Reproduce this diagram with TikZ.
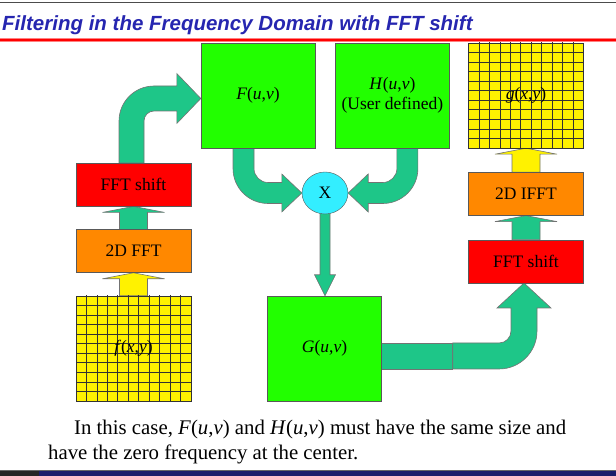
\documentclass[tikz,border=0pt]{standalone}
\usepackage{fontspec}
\setmainfont{Liberation Serif}
\newfontfamily\headfont{Liberation Sans}
\usetikzlibrary{calc, positioning, backgrounds, shapes.geometric}
\definecolor{Spec}{HTML}{22FF00}
\definecolor{Proc}{HTML}{FF8800}
\definecolor{Shift}{HTML}{FF0000}
\definecolor{Flow}{HTML}{1EC688}
\definecolor{Mult}{HTML}{33EEFF}
\definecolor{Head}{HTML}{2626B0}
\definecolor{Navy}{HTML}{1C1C6A}

% straight block arrow: colour, lower node, upper node
\newcommand\blockup[3]{%
  \path[blockarrow, fill=#1] ($(#2.north)+(-14,0)$) -- ($(#3.south)+(-14,-6)$) -- ($(#3.south)+(-31,-6)$) -- (#3.south)
    -- ($(#3.south)+(31,-6)$) -- ($(#3.south)+(14,-6)$) -- ($(#2.north)+(14,0)$) -- cycle;}

\begin{document}
\begin{tikzpicture}[
  x=1pt, y=1pt,
  boxtext/.style={font=\fontsize{17.5}{20}\selectfont},
  specbox/.style={boxtext, draw=black!65, fill=Spec, minimum width=114pt, minimum height=105pt, inner sep=0pt},
  procbox/.style={boxtext, draw=black!65, fill=Proc, minimum width=115pt, minimum height=43pt, inner sep=0pt},
  shiftbox/.style={procbox, fill=Shift},
  gridline/.style={draw=black!80, line width=0.7pt},
  gridbox/.style={boxtext, draw=black!80, fill=yellow, minimum width=115pt, minimum height=105pt, inner sep=0pt,
    path picture={
      \foreach \k in {1,...,10} {
        \draw[gridline] ($(path picture bounding box.south west)!\k/11!(path picture bounding box.south east)$) -- ++(0,110);
        \draw[gridline] ($(path picture bounding box.south west)!\k/11!(path picture bounding box.north west)$) -- ++(120,0);
      }}},
  blockarrow/.style={draw=black!55, line width=0.6pt, fill=Flow}
]
\useasboundingbox (0,0) rectangle (616,476);

% heading
\draw[black!70, line width=1pt] (0,473) -- (616,473);
\node[anchor=base west, inner sep=0pt, text=Head, font=\headfont\bfseries\itshape\fontsize{20.5}{24}\selectfont] (title) at (2,445)
  {Filtering in the Frequency Domain with FFT shift};
\draw[red!50, line width=4.5pt] (0,436) -- (616,436);
\draw[red, line width=2pt] (0,436) -- (616,436);

% left column
\node[gridbox] (fxy) at (133.5,127.5) {\textit{f}(\textit{x},\textit{y})};
\node[procbox, above=23pt of fxy] (fft) {2D FFT};
\node[shiftbox, above=23pt of fft] (shiftL) {FFT shift};

% spectra
\node[specbox] (Fuv) at (258,380.5) {\textit{F}(\textit{u},\textit{v})};
\node[specbox, right=20pt of Fuv, align=center] (Huv) {\textit{H}(\textit{u},\textit{v})\\(User defined)};
\node[boxtext, ellipse, draw=black!65, fill=Mult, minimum width=46pt, minimum height=42pt, inner sep=0pt] (mult) at (325,283) {X};
\node[specbox] (Guv) at (324.5,127.5) {\textit{G}(\textit{u},\textit{v})};

% right column
\node[gridbox] (gxy) at (526,380.5) {\textit{g}(\textit{x},\textit{y})};
\node[procbox, below=24pt of gxy] (ifft) {2D IFFT};
\node[shiftbox, below=24pt of ifft] (shiftR) {FFT shift};

\begin{scope}[on background layer]
  \blockup{yellow}{fxy}{fft}
  \blockup{Flow}{fft}{shiftL}
  \blockup{Flow}{shiftR}{ifft}
  \blockup{yellow}{ifft}{gxy}

  % shift -> F
  \coordinate (a) at ($(shiftL.north)+(-2,0)$);
  \coordinate (b) at ($(Fuv.west)+(0,-3)$);
  \path[blockarrow] ($(a)+(-12.5,0)$) -- ($(a|-b)+(-12.5,-22.5)$) arc[start angle=180, end angle=90, radius=35pt]
    -- ($(b)+(-24,12.5)$) -- ($(b)+(-24,25)$) -- (b) -- ($(b)+(-24,-25)$) -- ($(b)+(-24,-12.5)$)
    -- ($(a|-b)+(22.5,-12.5)$) arc[start angle=90, end angle=180, radius=10pt] -- ($(a)+(12.5,0)$) -- cycle;

  % F -> X
  \coordinate (a) at ($(Fuv.south)+(-14.5,0)$);
  \coordinate (b) at (mult.west);
  \path[blockarrow] ($(a)+(-10.5,0)$) -- ($(a|-b)+(-10.5,24.5)$) arc[start angle=180, end angle=270, radius=35pt]
    -- ($(b)+(-20,-10.5)$) -- ($(b)+(-20,-19)$) -- (b) -- ($(b)+(-20,19)$) -- ($(b)+(-20,10.5)$)
    -- ($(a|-b)+(24.5,10.5)$) arc[start angle=270, end angle=180, radius=14pt] -- ($(a)+(10.5,0)$) -- cycle;

  % H -> X
  \coordinate (a) at ($(Huv.south)+(15,0)$);
  \coordinate (b) at (mult.east);
  \path[blockarrow] ($(a)+(10.5,0)$) -- ($(a|-b)+(10.5,24.5)$) arc[start angle=0, end angle=-90, radius=35pt]
    -- ($(b)+(20,-10.5)$) -- ($(b)+(20,-19)$) -- (b) -- ($(b)+(20,19)$) -- ($(b)+(20,10.5)$)
    -- ($(a|-b)+(-24.5,10.5)$) arc[start angle=270, end angle=360, radius=14pt] -- ($(a)+(-10.5,0)$) -- cycle;

  % X -> G
  \coordinate (c) at (mult.south |- Guv.north);
  \path[blockarrow] ($(mult.center)+(-5,0)$) -- ($(c)+(-5,21)$) -- ($(c)+(-10.5,21)$) -- (c)
    -- ($(c)+(10.5,21)$) -- ($(c)+(5,21)$) -- ($(mult.center)+(5,0)$) -- cycle;

  % G -> shift
  \coordinate (a) at ($(Guv.east)+(0,-7.5)$);
  \coordinate (b) at ($(shiftR.south)+(-2,0)$);
  \path[blockarrow] ($(a)+(0,-13)$) rectangle ($(a)+(71,13)$);
  \path[blockarrow] ($(a)+(71,-13)$) -- ($(b|-a)+(-25,-13)$) arc[start angle=270, end angle=360, radius=38pt]
    -- ($(b)+(13,-25)$) -- ($(b)+(27,-25)$) -- (b) -- ($(b)+(-27,-25)$) -- ($(b)+(-13,-25)$)
    -- ($(b|-a)+(-13,25)$) arc[start angle=0, end angle=-90, radius=12pt] -- ($(a)+(71,13)$) -- cycle;
\end{scope}

% remark
\node[anchor=north west, align=left, inner sep=0pt, font=\fontsize{20.8}{24.5}\selectfont] (note) at (48,56)
  {\hspace*{26pt}In this case, \textit{F}(\textit{u},\textit{v}) and \textit{H}(\textit{u},\textit{v}) must have the same size and\\
   have the zero frequency at the center.};

% footer strip
\fill[Navy] (0,0) rectangle (616,5);
\fill[black!85] (0,0) rectangle (39,5);
\draw[black!60, line width=1pt] (0,5) -- (616,5);
\end{tikzpicture}
\end{document}
